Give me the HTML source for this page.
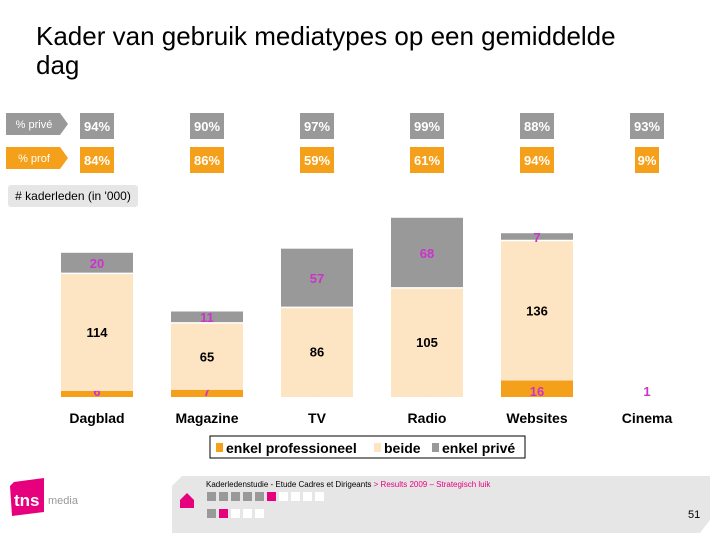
<!DOCTYPE html>
<html><head><meta charset="utf-8"><style>
body{margin:0;width:720px;height:540px;background:#fff;position:relative;overflow:hidden;font-family:"Liberation Sans",Arial,sans-serif}
.a{position:absolute}
.title{left:36px;top:22px;font-size:26px;line-height:29px;color:#000}
</style></head><body>
<div class="a title">Kader van gebruik mediatypes op een gemiddelde<br>dag</div>
<svg class="a" style="left:0;top:0" width="720" height="540" id="ch"></svg>
<div class="a" style="left:8px;top:185px;width:130px;height:22px;background:#e6e6e6;border-radius:3px;font-size:12px;line-height:22px;text-align:center"># kaderleden (in '000)</div>
<script>
const categories=["Dagblad","Magazine","TV","Radio","Websites","Cinema"];
const prof=[6,7,1,1,16,1];
const beide=[114,65,86,105,136,0];
const prive=[20,11,57,68,7,0];
const pctPrive=["94%","90%","97%","99%","88%","93%"];
const pctProf=["84%","86%","59%","61%","94%","9%"];
const svg=document.getElementById('ch');const NS='http://www.w3.org/2000/svg';
const base=397,scale=1.03,bw=72;
const xc=i=>97+i*110;const yv=v=>v*scale;
function el(t,a,p){const e=document.createElementNS(NS,t);for(const k in a)e.setAttribute(k,a[k]);(p||svg).appendChild(e);return e;}
function txt(x,y,s,c,sz,nm){const t=el('text',{x:x,y:y,'text-anchor':'middle','font-family':'Liberation Sans, Arial, sans-serif','font-size':sz||14,'font-weight':'bold',fill:c});t.textContent=s;

return t;}
[["% privé","#999",113],["% prof","#f5a01a",147]].forEach((r,k)=>{
const p=el('polygon',{points:`6,${r[2]} 60,${r[2]} 68,${r[2]+11} 60,${r[2]+22} 6,${r[2]+22}`,fill:r[1]});


const t=el('text',{x:34,y:r[2]+15,'text-anchor':'middle','font-size':11,fill:'#fff','font-family':'Liberation Sans, Arial, sans-serif'});t.textContent=r[0];

});
categories.forEach((c,i)=>{
const x=xc(i)-bw/2;
const w1=34, w2=i==5?24:34;
const b1=el('rect',{x:xc(i)-w1/2,y:113,width:w1,height:26,fill:'#999'});


txt(xc(i),131,pctPrive[i],'#fff',13,'pct-prive-value');
const b2=el('rect',{x:xc(i)-w2/2,y:147,width:w2,height:26,fill:'#f5a01a'});


txt(xc(i),165,pctProf[i],'#fff',13,'pct-prof-value');
let y=base;
const hp=yv(prof[i]);
if(i<5){const r=el('rect',{x:x,y:y-hp,width:bw,height:hp,fill:i==2||i==3?'#fde5c4':'#f5a01a'});

}
txt(xc(i),y-1,prof[i],'#cc33cc',13,'label-prof');
y-=hp;
const hb=yv(beide[i]);
if(beide[i]>0){const r=el('rect',{x:x,y:y-hb,width:bw,height:hb,fill:'#fde5c4'});


txt(xc(i),y-hb/2+5,beide[i],'#000',13,'label-beide');}
y-=hb;
const hv=yv(prive[i]);
if(prive[i]>0){const r=el('rect',{x:x,y:y-hv,width:bw,height:hv,fill:'#999'});


el('line',{x1:x,x2:x+bw,y1:y,y2:y,stroke:'#fff','stroke-width':1.5});
txt(xc(i),y-hv/2+5,prive[i],'#cc33cc',13,'label-prive');}
txt(xc(i),423,c,'#000',14,'category-label');
});
const lg=el('rect',{x:210,y:436,width:315,height:22,fill:'#fff',stroke:'#000'});


[["enkel professioneel","#f5a01a",216],["beide","#fde5c4",374],["enkel privé","#999",432]].forEach(l=>{
const r=el('rect',{x:l[2],y:443,width:7,height:9,fill:l[1]});


const t=el('text',{x:l[2]+10,y:453,'font-size':14,'font-weight':'bold','font-family':'Liberation Sans, Arial, sans-serif'});t.textContent=l[0];

});
</script>
<svg class="a" style="left:0;top:470px" width="720" height="70">
<polygon points="14,12 44,8 44,42 12,46 10,16" fill="#e6007e"/>
<text x="14" y="36" font-size="17" font-weight="bold" fill="#fff" font-family="Liberation Sans">tns</text>
<text x="48" y="34" font-size="11" fill="#999" font-family="Liberation Sans">media</text>
<polygon points="182,6 710,6 710,50 700,63 172,63 172,16" fill="#e6e6e6"/>
<polygon points="180,30 187,23 194,30 194,38 180,38" fill="#e6007e"/>
<text x="206" y="17" font-size="8" fill="#000" font-family="Liberation Sans">Kaderledenstudie - Etude Cadres et Dirigeants <tspan fill="#e6007e">&gt; Results 2009 – Strategisch luik</tspan></text>
<g fill="#999"><rect x="207" y="22" width="9" height="9"/><rect x="219" y="22" width="9" height="9"/><rect x="231" y="22" width="9" height="9"/><rect x="243" y="22" width="9" height="9"/><rect x="255" y="22" width="9" height="9"/><rect x="207" y="39" width="9" height="9"/></g>
<rect x="267" y="22" width="9" height="9" fill="#e6007e"/><rect x="219" y="39" width="9" height="9" fill="#e6007e"/>
<g fill="#fff"><rect x="279" y="22" width="9" height="9"/><rect x="291" y="22" width="9" height="9"/><rect x="303" y="22" width="9" height="9"/><rect x="315" y="22" width="9" height="9"/><rect x="231" y="39" width="9" height="9"/><rect x="243" y="39" width="9" height="9"/><rect x="255" y="39" width="9" height="9"/></g>
<text x="688" y="48" font-size="11" fill="#000" font-family="Liberation Sans">51</text>
</svg>
</body></html>
